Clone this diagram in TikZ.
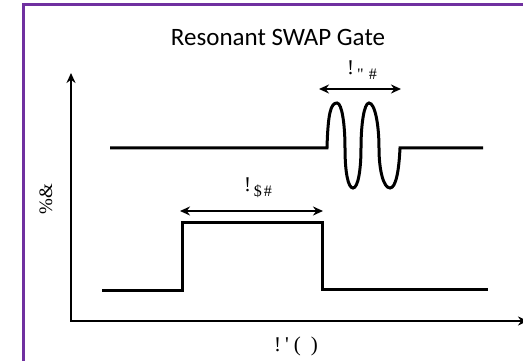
\documentclass[tikz,border=0pt]{standalone}
\usepackage{fontspec}
\setmainfont{Liberation Serif}
\newfontfamily\titlefont{Carlito}
\usetikzlibrary{arrows.meta}
\usepackage{xcolor}
\definecolor{framepurple}{HTML}{7030A0}
\newcommand\lowsub[1]{\raisebox{-5pt}{\fontsize{16}{16}\selectfont #1}}

\begin{document}
\begin{tikzpicture}[x=1pt,y=-1pt,>={Stealth[length=10pt,width=9pt]},line cap=butt,
  pulse/.style={line width=3pt,line join=miter},
  span/.style={<->,line width=2.5pt},
  lbl/.style={anchor=base,inner sep=0pt,font=\fontsize{21}{21}\selectfont}]
\useasboundingbox (0,0) rectangle (523,361);
\begin{scope}
\clip (0,0) rectangle (523,361);
\draw[framepurple,line width=3pt] (23,370) -- (23,5) -- (540,5);
% axes
\draw[<->,line width=2.5pt,line join=miter] (71,73) -- (71,321) -- (528,321);
\end{scope}
\node[anchor=base,inner sep=0pt,font=\titlefont\fontsize{25}{25}\selectfont] (title) at (278,46) {Resonant SWAP Gate};
% resonant drive
\draw[pulse] (110,148) -- (327,148)
  .. controls (328,112) and (331,103) .. (337,103)
  .. controls (342,103) and (345,125) .. (345,148)
  .. controls (345,172) and (348,188) .. (353,188)
  .. controls (358,188) and (361,170) .. (361,148)
  .. controls (361,125) and (364,103) .. (369,103)
  .. controls (375,103) and (379,125) .. (379,148)
  .. controls (379,172) and (384,188) .. (390,188)
  .. controls (396,188) and (399,170) .. (400,148)
  -- (483,148);
% flux pulse
\draw[pulse] (102,290) -- (182,290) -- (182,222) -- (322,222) -- (322,289) -- (488,289);
\coordinate (gdL) at (319,89);
\coordinate (gdR) at (401,89);
\draw[span] (gdL) -- (gdR);
\node[lbl] (gdlbl) at (362,75) {!\hspace{3pt}\lowsub{\textquotedbl\hspace{5pt}\#}};
\coordinate (fpL) at (180,211);
\coordinate (fpR) at (323,211);
\draw[span] (fpL) -- (fpR);
\node[lbl] (fplbl) at (258,192) {!\hspace{3pt}\lowsub{\$\hspace{2pt}\#}};
\node[lbl] (xlbl) at (296,351) {!\hspace{4pt}\textquotesingle\hspace{5pt}(\hspace{10pt})};
\node[inner sep=0pt,rotate=90,font=\fontsize{19}{19}\selectfont] (ylbl) at (46,199) {\%\&};
\end{tikzpicture}
\end{document}
